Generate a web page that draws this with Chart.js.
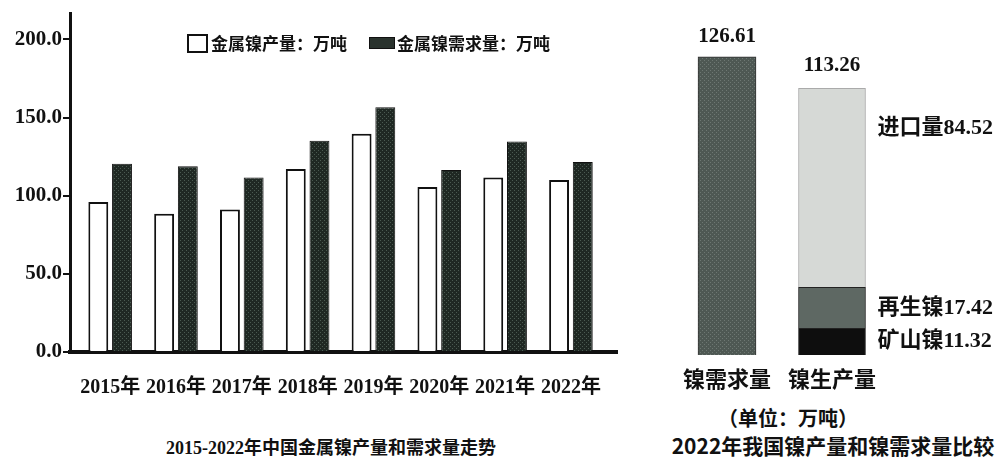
<!DOCTYPE html>
<html lang="zh">
<head>
  <meta charset="UTF-8">
  <title>金属镍产量和需求量</title>
  <script src="https://cdn.jsdelivr.net/npm/chart.js"></script>
  <style>
    body {
      margin: 0;
      background: #fff;
      color: #111;
      width: 1008px;
      height: 460px;
      position: relative;
      overflow: hidden;
      font-family: "Liberation Serif", "Noto Sans CJK SC", serif;
    }
    #leftBox { position: absolute; left: 0; top: 0; width: 630px; height: 420px; }
    #rightBox { position: absolute; left: 640px; top: 0; width: 368px; height: 395px; }
    .legend {
      position: absolute;
      top: 33px;
      left: 187px;
      display: flex;
      align-items: center;
      font: bold 17px "Noto Sans CJK SC", sans-serif;
      line-height: 20px;
    }
    .legend .item { display: flex; align-items: center; }
    .legend .box { width: 17px; height: 15px; border: 2px solid #111; background: #fff; margin-right: 3px; }
    .legend .box.dark { width: 24px; height: 10px; border: 1px solid #111; background: #2a332e; margin-left: 22px; margin-right: 2px; }
    .txt { position: absolute; font-weight: bold; white-space: nowrap; text-align: center; }
    #leftTitle { left: 0; width: 662px; top: 437px; font-size: 18px; line-height: 22px; }
    #unit { left: 688px; width: 200px; top: 407px; font-size: 20px; line-height: 22px; font-family: "Noto Sans CJK SC", sans-serif; }
    #rightTitle { left: 633px; width: 400px; top: 434px; font-size: 21px; line-height: 22px; font-family: "Noto Sans CJK SC", sans-serif; }
  </style>
</head>
<body>

  <div id="leftBox"><canvas id="trend"></canvas></div>
  <div class="legend">
    <span class="item"><span class="box"></span>金属镍产量：万吨</span>
    <span class="item"><span class="box dark"></span>金属镍需求量：万吨</span>
  </div>
  <div id="leftTitle" class="txt">2015-2022年中国金属镍产量和需求量走势</div>

  <div id="rightBox"><canvas id="compare"></canvas></div>
  <div id="unit" class="txt">（单位：万吨）</div>
  <div id="rightTitle" class="txt">2022年我国镍产量和镍需求量比较</div>

  <script>
    // 左图：2015-2022 产量 / 需求量（万吨）
    const years = ['2015年', '2016年', '2017年', '2018年', '2019年', '2020年', '2021年', '2022年'];
    const production = [96.0, 88.4, 91.1, 117.1, 139.7, 105.5, 111.6, 110.1];
    const demand = [120.4, 118.9, 111.6, 135.1, 156.6, 116.4, 134.7, 121.6];

    // 右图：2022 年比较
    const compareCats = ['镍需求量', '镍生产量'];
    const demand2022 = 126.61;
    const production2022 = 113.26;
    const partNames = ['矿山镍', '再生镍', '进口量'];
    const partValues = [11.32, 17.42, 84.52];
    const partColors = ['#0e0e0e', '#5e6863', '#d6d9d6'];

    const serif = '"Liberation Serif", "Noto Sans CJK SC", serif';
    const cjk = '"Noto Sans CJK SC", sans-serif';

    function stipple(ctx, base, dot) {
      const t = document.createElement('canvas');
      t.width = t.height = 4;
      const g = t.getContext('2d');
      g.fillStyle = base;
      g.fillRect(0, 0, 4, 4);
      g.fillStyle = dot;
      g.fillRect(0, 0, 1, 1);
      g.fillRect(2, 2, 1, 1);
      return ctx.createPattern(t, 'repeat');
    }

    const trendCtx = document.getElementById('trend').getContext('2d');

    new Chart(trendCtx, {
      type: 'bar',
      data: {
        datasets: [
          {
            label: '金属镍产量：万吨',
            data: production.map((v, i) => ({ x: i, y: v })),
            backgroundColor: '#fff',
            borderColor: '#111',
            borderWidth: 2,
            categoryPercentage: 0.72,
            barPercentage: 0.84
          },
          {
            label: '金属镍需求量：万吨',
            data: demand.map((v, i) => ({ x: i, y: v })),
            backgroundColor: stipple(trendCtx, '#1f2823', '#4b5a51'),
            borderColor: '#111',
            borderWidth: 1,
            categoryPercentage: 0.72,
            barPercentage: 0.84
          }
        ]
      },
      options: {
        responsive: true,
        maintainAspectRatio: false,
        animation: false,
        layout: { padding: { top: 12, right: 13, left: 0, bottom: 0 } },
        plugins: { legend: { display: false }, tooltip: { enabled: false } },
        scales: {
          x: {
            type: 'linear',
            offset: false,
            min: -0.61,
            max: 7.70,
            grid: { display: false, drawTicks: false, offset: false },
            border: { display: true, color: '#111', width: 4 },
            ticks: {
              stepSize: 1,
              includeBounds: false,
              autoSkip: false,
              maxRotation: 0,
              padding: 24,
              color: '#111',
              font: { family: serif, size: 20, weight: 'bold' },
              callback: v => years[v] ?? ''
            },
            afterFit: s => { s.height = 68; }
          },
          y: {
            min: 0,
            max: 216.5,
            grid: { drawOnChartArea: false, drawTicks: true, tickLength: 7, color: '#111', lineWidth: 2 },
            border: { display: true, color: '#111', width: 3 },
            ticks: {
              stepSize: 50,
              includeBounds: false,
              padding: 1,
              color: '#111',
              font: { family: serif, size: 21, weight: 'bold' },
              callback: v => v.toFixed(1)
            },
            afterFit: s => { s.width = 70; }
          }
        }
      }
    });

    const segLabels = {
      id: 'segLabels',
      afterDatasetsDraw(chart) {
        const c = chart.ctx;
        c.save();
        c.fillStyle = '#111';
        c.textBaseline = 'middle';
        c.textAlign = 'left';
        c.font = 'bold 22px ' + serif;
        partNames.forEach((name, i) => {
          const bar = chart.getDatasetMeta(i + 1).data[1];
          const top = bar.y, bottom = bar.base;
          const y = i === 2 ? top + (bottom - top) * 0.2 : (top + bottom) / 2;
          c.fillText(name + partValues[i].toFixed(2), bar.x + bar.width / 2 + 12, y);
        });
        c.textAlign = 'center';
        c.textBaseline = 'bottom';
        c.font = 'bold 21px ' + serif;
        const d = chart.getDatasetMeta(0).data[0];
        c.fillText(demand2022.toFixed(2), d.x, d.y - 10);
        const p = chart.getDatasetMeta(partNames.length).data[1];
        c.fillText(production2022.toFixed(2), p.x, p.y - 12);
        c.restore();
      }
    };

    const cmpCtx = document.getElementById('compare').getContext('2d');

    new Chart(cmpCtx, {
      type: 'bar',
      data: {
        labels: compareCats,
        datasets: [
          {
            label: compareCats[0],
            data: [demand2022, null],
            backgroundColor: stipple(cmpCtx, '#4e5853', '#6d7772'),
            borderColor: '#333',
            borderWidth: 1,
            barThickness: 58
          },
          ...partNames.map((name, i) => ({
            label: name,
            data: [null, partValues[i]],
            backgroundColor: partColors[i],
            borderColor: i === 2 ? '#aaa' : '#222',
            borderWidth: 1,
            barThickness: 67
          }))
        ]
      },
      options: {
        responsive: true,
        maintainAspectRatio: false,
        animation: false,
        layout: { padding: { top: 25.4, left: 34.5, right: 123.5, bottom: 0 } },
        plugins: { legend: { display: false }, tooltip: { enabled: false } },
        scales: {
          x: {
            stacked: true,
            grid: { display: false, drawTicks: false },
            border: { display: false },
            ticks: {
              padding: 10,
              color: '#111',
              font: { family: cjk, size: 22, weight: 'bold' }
            },
            afterFit: s => { s.height = 40; }
          },
          y: {
            stacked: true,
            display: false,
            min: 0,
            max: 140
          }
        }
      },
      plugins: [segLabels]
    });
  </script>
</body>
</html>
